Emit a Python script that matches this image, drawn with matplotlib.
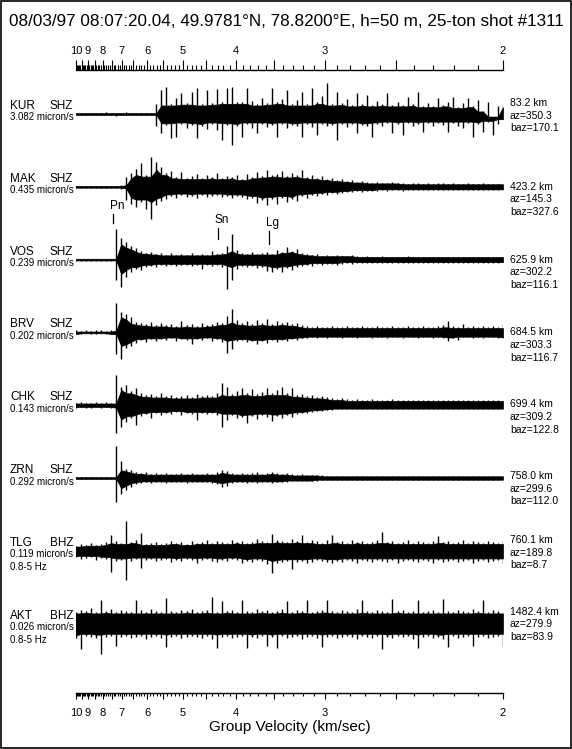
import numpy as np
import matplotlib
matplotlib.use("Agg")
import matplotlib.pyplot as plt
from matplotlib.ticker import FixedLocator, FuncFormatter
from matplotlib.patches import Rectangle

plt.rcParams["font.family"] = ["Liberation Sans", "DejaVu Sans"]

# ---------------- data ----------------
TITLE = "08/03/97 08:07:20.04, 49.9781°N, 78.8200°E, h=50 m, 25-ton shot #1311"

STATIONS = ["KUR", "MAK", "VOS", "BRV", "CHK", "ZRN", "TLG", "AKT"]
CHANNELS = ["SHZ", "SHZ", "SHZ", "SHZ", "SHZ", "SHZ", "BHZ", "BHZ"]
SCALES = ["3.082 micron/s", "0.435 micron/s", "0.239 micron/s", "0.202 micron/s",
          "0.143 micron/s", "0.292 micron/s", "0.119 micron/s", "0.026 micron/s"]
FILTERS = ["", "", "", "", "", "", "0.8-5 Hz", "0.8-5 Hz"]
DIST_KM = [83.2, 423.2, 625.9, 684.5, 699.4, 758.0, 760.1, 1482.4]
AZ = [350.3, 145.3, 302.2, 303.3, 309.2, 299.6, 189.8, 279.9]
BAZ = [170.1, 327.6, 116.1, 116.7, 122.8, 112.0, 8.7, 83.9]

PHASES = ["Pn", "Sn", "Lg"]
PHASE_V = [7.44, 4.30, 3.56]   # group velocity of the marks (km/s)
PHASE_TRACE = 2                # marks drawn over VOS

# trace envelopes (peak amplitude above / below the trace line), samples
# evenly spaced in slowness from 10 km/s to 2 km/s
KUR_UP = [1, 1, 1, 1, 1, 1, 2, 1, 1, 1,
          2, 1, 1, 1, 1, 1, 10, 24, 27, 10,
          16, 21, 11, 22, 26, 10, 24, 11, 25, 12,
          26, 27, 12, 12, 26, 13, 10, 16, 11, 26,
          12, 15, 24, 10, 14, 22, 10, 26, 12, 18,
          31, 10, 22, 11, 15, 9, 21, 10, 19, 9,
          13, 10, 21, 9, 12, 9, 17, 10, 22, 8,
          11, 8, 16, 9, 12, 17, 7, 11, 16, 8,
          14, 3, 12, -3, 8, 9]
KUR_LOW = [1, 1, 1, 1, 1, 1, 1, 1, 2, 1,
           1, 1, 1, 1, 1, 1, 12, 19, 11, 24,
           23, 10, 14, 11, 24, 12, 15, 10, 16, 26,
           11, 31, 12, 23, 10, 14, 19, 10, 13, 11,
           23, 10, 14, 11, 12, 23, 10, 13, 21, 10,
           12, 11, 26, 10, 13, 10, 19, 11, 12, 23,
           10, 12, 9, 19, 10, 21, 9, 12, 10, 18,
           9, 12, 9, 11, 18, 9, 12, 14, 9, 23,
           10, 18, 8, 21, 10, 6]

MAK_UP = [1, 1, 1, 1, 1, 1, 1, 1, 1, 2,
          10, 14, 18, 24, 12, 30, 25, 20, 14, 16,
          10, 15, 9, 11, 13, 9, 12, 10, 14, 9,
          11, 10, 12, 8, 13, 10, 15, 11, 17, 12,
          13, 16, 11, 14, 12, 17, 10, 12, 9, 11,
          8, 9, 7, 8, 6, 7, 5, 6, 5, 4,
          5, 4, 4, 5, 4, 4, 3, 4, 4, 3,
          4, 3, 4, 4, 3, 4, 3, 3, 4, 3,
          3, 4, 3, 3, 3, 4]
MAK_LOW = [1, 1, 1, 1, 1, 1, 1, 1, 1, 2,
           13, 17, 20, 15, 22, 32, 18, 14, 12, 9,
           11, 8, 10, 9, 11, 8, 10, 9, 8, 10,
           9, 11, 9, 10, 12, 11, 16, 13, 18, 12,
           17, 11, 15, 12, 14, 9, 11, 8, 9, 7,
           8, 6, 7, 6, 5, 5, 4, 5, 4, 4,
           4, 3, 4, 3, 3, 4, 3, 3, 3, 3,
           3, 3, 3, 3, 3, 3, 3, 3, 3, 3,
           3, 3, 3, 3, 3, 3]

VOS_UP = [1, 1, 1, 1, 1, 1, 1, 1, 31, 22,
          18, 14, 12, 9, 7, 8, 6, 7, 5, 7,
          5, 6, 5, 7, 5, 6, 5, 9, 6, 7,
          14, 26, 10, 7, 6, 8, 6, 7, 8, 6,
          10, 8, 13, 9, 11, 7, 6, 5, 6, 4,
          5, 4, 5, 4, 4, 5, 4, 3, 4, 3,
          3, 4, 3, 3, 3, 3, 4, 3, 3, 3,
          3, 3, 3, 3, 3, 3, 3, 3, 3, 3,
          3, 3, 3, 3, 3, 3]
VOS_LOW = [1, 1, 1, 1, 1, 1, 1, 1, 20, 27,
           17, 12, 9, 10, 7, 6, 7, 5, 6, 5,
           6, 5, 5, 6, 5, 9, 5, 6, 5, 7,
           29, 20, 9, 6, 7, 6, 8, 7, 11, 12,
           9, 12, 8, 10, 7, 6, 5, 6, 4, 5,
           4, 4, 5, 4, 3, 4, 3, 3, 3, 3,
           3, 3, 3, 3, 3, 3, 3, 3, 3, 3,
           3, 3, 3, 3, 3, 3, 3, 3, 3, 3,
           3, 3, 3, 3, 3, 3]

BRV_UP = [2, 1, 2, 1, 2, 2, 1, 2, 29, 20,
          18, 15, 10, 9, 8, 10, 7, 9, 7, 8,
          6, 11, 7, 8, 6, 9, 7, 8, 10, 9,
          16, 23, 12, 9, 11, 8, 12, 9, 13, 8,
          11, 9, 10, 8, 9, 7, 6, 5, 6, 5,
          5, 6, 5, 5, 6, 5, 5, 6, 5, 5,
          6, 5, 5, 6, 5, 5, 6, 5, 5, 6,
          5, 5, 6, 7, 11, 6, 5, 8, 5, 6,
          5, 6, 5, 6, 5, 8]
BRV_LOW = [2, 2, 1, 2, 2, 1, 2, 2, 22, 27,
           16, 14, 11, 8, 10, 7, 9, 7, 8, 6,
           9, 7, 8, 12, 7, 8, 6, 9, 7, 10,
           21, 17, 9, 8, 10, 9, 12, 9, 11, 8,
           10, 8, 9, 7, 8, 6, 6, 5, 6, 5,
           6, 5, 5, 6, 5, 5, 6, 5, 5, 6,
           5, 5, 6, 5, 5, 6, 5, 5, 6, 5,
           5, 6, 5, 6, 9, 6, 8, 5, 5, 6,
           5, 6, 5, 5, 6, 6]

CHK_UP = [2, 3, 2, 2, 3, 2, 3, 2, 30, 18,
          20, 14, 17, 12, 10, 11, 9, 12, 9, 10,
          8, 9, 10, 8, 11, 9, 10, 9, 12, 22,
          18, 11, 14, 17, 12, 16, 11, 13, 17, 12,
          15, 18, 12, 17, 10, 11, 9, 10, 8, 9,
          8, 7, 6, 7, 6, 5, 6, 5, 5, 6,
          5, 5, 5, 6, 5, 5, 5, 5, 5, 5,
          5, 5, 5, 5, 5, 5, 5, 5, 5, 5,
          5, 5, 5, 5, 5, 5]
CHK_LOW = [3, 2, 3, 3, 2, 3, 2, 3, 28, 22,
           17, 13, 20, 11, 9, 13, 8, 10, 8, 9,
           7, 10, 8, 9, 15, 8, 9, 8, 10, 22,
           15, 10, 13, 12, 18, 11, 14, 10, 12, 16,
           11, 13, 10, 12, 9, 8, 8, 7, 6, 6,
           5, 5, 4, 4, 4, 4, 4, 4, 4, 4,
           4, 4, 4, 4, 4, 4, 4, 4, 4, 4,
           4, 4, 4, 4, 4, 4, 4, 4, 4, 4,
           4, 4, 4, 4, 4, 4]

ZRN_UP = [1, 1, 1, 1, 1, 1, 1, 1, 32, 17,
          9, 8, 6, 5, 6, 4, 5, 4, 5, 4,
          4, 5, 4, 5, 4, 4, 5, 4, 6, 8,
          7, 5, 4, 5, 4, 5, 6, 4, 5, 6,
          5, 4, 5, 4, 3, 4, 3, 3, 3, 3,
          2, 2, 2, 2, 2, 2, 2, 2, 2, 2,
          2, 2, 2, 2, 2, 2, 2, 2, 2, 2,
          2, 2, 2, 2, 2, 2, 2, 2, 2, 2,
          2, 2, 2, 2, 2, 2]
ZRN_LOW = [1, 1, 1, 1, 1, 1, 1, 1, 24, 16,
           12, 9, 6, 5, 4, 5, 4, 4, 5, 4,
           4, 4, 5, 4, 4, 4, 4, 5, 6, 9,
           8, 5, 4, 4, 5, 4, 5, 4, 4, 5,
           4, 4, 4, 3, 3, 3, 3, 3, 3, 2,
           2, 2, 2, 2, 2, 2, 2, 2, 2, 2,
           2, 2, 2, 2, 2, 2, 2, 2, 2, 2,
           2, 2, 2, 2, 2, 2, 2, 2, 2, 2,
           2, 2, 2, 2, 2, 2]

TLG_UP = [5, 7, 6, 8, 6, 7, 9, 16, 10, 8,
          30, 9, 11, 18, 7, 8, 9, 7, 8, 10,
          8, 9, 7, 10, 8, 9, 11, 8, 10, 9,
          8, 11, 9, 10, 8, 9, 12, 10, 9, 17,
          11, 10, 9, 12, 10, 16, 9, 11, 10, 8,
          11, 16, 9, 10, 8, 11, 9, 10, 8, 9,
          11, 19, 9, 10, 8, 9, 11, 8, 10, 9,
          8, 10, 15, 9, 10, 8, 9, 11, 8, 10,
          9, 8, 10, 9, 8, 10]
TLG_LOW = [6, 8, 7, 6, 9, 7, 8, 21, 10, 9,
           29, 10, 8, 17, 9, 8, 10, 9, 8, 11,
           9, 10, 8, 9, 12, 9, 8, 10, 11, 9,
           10, 8, 9, 12, 10, 11, 9, 10, 13, 22,
           12, 11, 10, 18, 11, 10, 12, 11, 9, 10,
           11, 12, 10, 11, 9, 10, 12, 9, 10, 11,
           9, 10, 11, 9, 12, 10, 9, 10, 11, 9,
           10, 12, 9, 11, 10, 9, 11, 10, 9, 12,
           10, 9, 11, 10, 9, 13]

AKT_UP = [12, 14, 13, 16, 12, 24, 13, 15, 12, 14,
          13, 12, 24, 14, 12, 15, 13, 12, 26, 13,
          12, 14, 13, 15, 12, 13, 14, 27, 12, 23,
          13, 14, 12, 24, 13, 12, 15, 13, 14, 12,
          13, 15, 23, 12, 14, 13, 24, 12, 13, 14,
          24, 13, 12, 14, 13, 12, 15, 24, 13, 12,
          14, 13, 12, 25, 13, 14, 12, 13, 24, 12,
          13, 14, 12, 25, 13, 12, 14, 13, 12, 15,
          13, 24, 12, 14, 13, 12]
AKT_LOW = [14, 25, 12, 13, 14, 30, 13, 12, 22, 13,
           12, 14, 13, 12, 15, 13, 12, 14, 23, 13,
           12, 14, 13, 12, 13, 14, 12, 15, 24, 13,
           12, 14, 13, 12, 24, 13, 14, 12, 22, 13,
           24, 12, 14, 13, 12, 15, 13, 12, 14, 23,
           13, 12, 14, 13, 12, 13, 15, 12, 13, 14,
           12, 25, 13, 14, 12, 13, 12, 15, 24, 13,
           12, 14, 13, 15, 23, 12, 14, 13, 12, 22,
           13, 12, 14, 13, 12, 22]

TRACES = [(KUR_UP, KUR_LOW), (MAK_UP, MAK_LOW), (VOS_UP, VOS_LOW),
          (BRV_UP, BRV_LOW), (CHK_UP, CHK_LOW), (ZRN_UP, ZRN_LOW),
          (TLG_UP, TLG_LOW), (AKT_UP, AKT_LOW)]

# ---------------- layout ----------------
W, H = 572, 749
AX_L, AX_R, AX_T, AX_B = 76, 503, 70, 693
FIRST_BASE = 44      # first trace line below the top axis (px)
GAP = 72.8           # trace spacing (px)
# right-hand text block: offset of its first line from the trace line (px)
RIGHT_DY = [-11, 0, 0, 0, -1, -2, -11, -12]

fig = plt.figure(figsize=(W / 100, H / 100), dpi=100)
ax = fig.add_axes([AX_L / W, 1 - AX_B / H, (AX_R - AX_L) / W, (AX_B - AX_T) / H])
ax.set_xlim(0.1, 0.5)
ax.set_ylim(AX_B - AX_T, 0)
ax.set_yticks([])
ax.patch.set_visible(False)
ax2 = ax.twiny()
ax2.set_xlim(0.1, 0.5)
ax2.set_yticks([])


def fig_text(x, y, s, size, **kw):
    return ax.text(x / W, 1 - y / H, s, transform=fig.transFigure, fontsize=size,
                   va="center", ha=kw.pop("ha", "left"), clip_on=False, zorder=2, **kw)


major_v = np.arange(2.0, 10.01, 0.5)
minor_v = np.arange(2.0, 10.001, 0.1)


def vel_label(x, pos):
    v = 1.0 / x
    return f"{round(v)}" if abs(v - round(v)) < 1e-6 else ""


for a, side in [(ax, "bottom"), (ax2, "top")]:
    a.xaxis.set_major_locator(FixedLocator(1.0 / major_v))
    a.xaxis.set_minor_locator(FixedLocator(1.0 / minor_v))
    a.xaxis.set_major_formatter(FuncFormatter(vel_label))
    for sp in a.spines.values():
        sp.set_visible(False)
    a.spines[side].set_visible(True)
    a.spines[side].set_linewidth(1.0)

ax.tick_params(axis="x", which="major", length=4.5, width=0.8, pad=6, labelsize=8)
ax.tick_params(axis="x", which="minor", length=2.5, width=0.8)
ax2.tick_params(axis="x", which="major", length=7, width=0.8, pad=3, labelsize=8)
ax2.tick_params(axis="x", which="minor", length=3.5, width=0.8)
ax.set_xlabel("Group Velocity (km/sec)", fontsize=11, labelpad=2)


def core(a):
    # solid body of a trace: the smallest of each sample and its neighbours
    p = np.pad(a, 1, mode="edge")
    return np.minimum(np.minimum(p[:-2], p[1:-1]), p[2:])


# ---------------- traces ----------------
slow = np.linspace(0.1, 0.5, len(KUR_UP))
for i, (up, low) in enumerate(TRACES):
    base = FIRST_BASE + i * GAP
    up = np.array(up, float)
    low = np.array(low, float)
    ax.fill_between(slow, base - 0.85 * core(up), base + 0.85 * core(low),
                    facecolor="black", edgecolor="black", linewidth=0.5, zorder=4)
    ax.vlines(slow, base - up, base + low, color="black", linewidth=1.0, zorder=4)

    ypx = AX_T + base
    fig_text(10, ypx - 8, STATIONS[i], 8.5)
    fig_text(50, ypx - 8, CHANNELS[i], 8.5)
    fig_text(10, ypx + 3.5, SCALES[i], 7)
    if FILTERS[i]:
        fig_text(10, ypx + 16, FILTERS[i], 7)

    ry = ypx + RIGHT_DY[i]
    fig_text(510, ry, f"{DIST_KM[i]:.1f} km", 7.5)
    fig_text(510, ry + 12.7, f"az={AZ[i]:.1f}", 7.5)
    fig_text(510, ry + 25.4, f"baz={BAZ[i]:.1f}", 7.5)

# phase marks
mark_span = {"Pn": (-46, -37), "Sn": (-32, -21), "Lg": (-29, -16)}
base = FIRST_BASE + PHASE_TRACE * GAP
for name, v in zip(PHASES, PHASE_V):
    top, bot = mark_span[name]
    ax.plot([1 / v, 1 / v], [base + top, base + bot], color="black", lw=0.9, zorder=4)
    ax.annotate(name, xy=(1 / v, base + top - 8), xytext=(-2, 0),
                textcoords="offset points", fontsize=8.5, ha="left", va="center")

# title and frame
fig.text(9 / W, 1 - 21 / H, TITLE, fontsize=12.3, ha="left", va="center")
fig.add_artist(Rectangle((0.5 / W, 1.5 / H), (W - 2) / W, (H - 2.5) / H,
                         transform=fig.transFigure, fill=False, lw=1.2, color="black"))

fig.savefig("out.png", dpi=100)
